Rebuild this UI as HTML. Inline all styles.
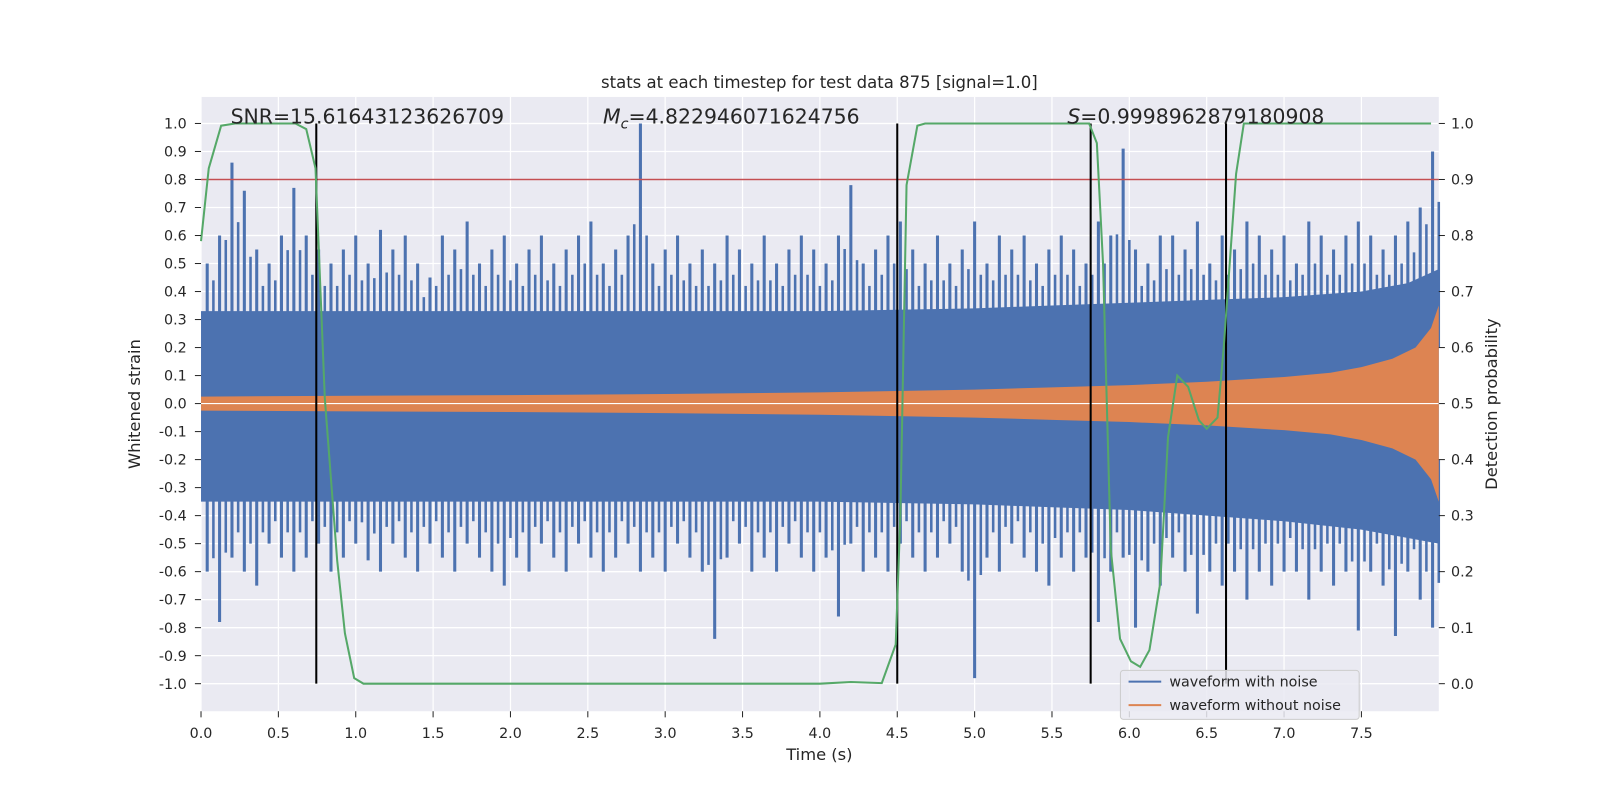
<!DOCTYPE html>
<html><head><meta charset="utf-8"><style>
html,body{margin:0;padding:0;background:#fff;overflow:hidden;width:1600px;height:800px;font-family:"Liberation Sans","DejaVu Sans",sans-serif;}
svg{display:block;}
svg text{font-family:"DejaVu Sans","Liberation Sans",sans-serif;fill:#262626;}
</style></head><body>
<svg id="chart" width="1600" height="800" viewBox="0 0 1568 784" xmlns="http://www.w3.org/2000/svg">
<rect x="197" y="95" width="1213" height="602" fill="#eaeaf2"/>
<g id="grid"></g>
<g id="marks"></g>
<g id="axes"></g>
<text x="803" y="86" text-anchor="middle" font-size="16.2">stats at each timestep for test data 875 [signal=1.0]</text>
<text x="226" y="121" font-size="20">SNR=15.61643123626709</text>
<text x="591" y="121" font-size="20"><tspan font-style="italic">M</tspan><tspan font-size="14" dy="5" font-style="italic">c</tspan><tspan dy="-5">=4.822946071624756</tspan></text>
<text x="1046" y="121" font-size="20"><tspan font-style="italic">S</tspan>=0.9998962879180908</text>
<text x="803" y="745" text-anchor="middle" font-size="16">Time (s)</text>
<text transform="translate(137,396) rotate(-90)" text-anchor="middle" font-size="16">Whitened strain</text>
<text transform="translate(1467,396) rotate(-90)" text-anchor="middle" font-size="16">Detection probability</text>
<g>
<rect x="1098" y="657" width="234" height="48" rx="3" fill="#eaeaf2" fill-opacity="0.85" stroke="#cccccc"/>
<line x1="1106" y1="668" x2="1138" y2="668" stroke="#4c72b0" stroke-width="2"/>
<text x="1146" y="673" font-size="14">waveform with noise</text>
<line x1="1106" y1="691" x2="1138" y2="691" stroke="#dd8452" stroke-width="2"/>
<text x="1146" y="696" font-size="14">waveform without noise</text>
</g>
</svg>
<script>
const upperSpikes=[0.5,0.6,0.86,0.76,0.55,0.5,0.6,0.77,0.6,0.55,0.5,0.55,0.6,0.5,0.62,0.55,0.6,0.5,0.45,0.6,0.55,0.65,0.5,0.55,0.6,0.5,0.55,0.6,0.5,0.55,0.6,0.65,0.5,0.55,0.6,1.0,0.5,0.55,0.6,0.5,0.55,0.5,0.6,0.55,0.5,0.6,0.5,0.55,0.6,0.55,0.5,0.6,0.78,0.5,0.55,0.6,0.65,0.55,0.5,0.6,0.5,0.55,0.65,0.5,0.6,0.55,0.6,0.5,0.55,0.6,0.55,0.5,0.65,0.6,0.91,0.55,0.5,0.6,0.6,0.55,0.65,0.5,0.6,0.55,0.65,0.6,0.55,0.6,0.5,0.65,0.6,0.55,0.6,0.65,0.6,0.55,0.6,0.65,0.7,0.9];
const lowerSpikes=[-0.6,-0.78,-0.55,-0.6,-0.65,-0.5,-0.55,-0.6,-0.55,-0.5,-0.6,-0.55,-0.5,-0.56,-0.6,-0.5,-0.55,-0.6,-0.5,-0.55,-0.6,-0.5,-0.55,-0.6,-0.65,-0.55,-0.6,-0.5,-0.55,-0.6,-0.5,-0.55,-0.6,-0.55,-0.5,-0.6,-0.55,-0.6,-0.5,-0.55,-0.6,-0.84,-0.55,-0.5,-0.6,-0.55,-0.6,-0.5,-0.55,-0.6,-0.55,-0.76,-0.5,-0.6,-0.55,-0.6,-0.5,-0.55,-0.6,-0.55,-0.5,-0.6,-0.98,-0.55,-0.6,-0.5,-0.55,-0.6,-0.65,-0.55,-0.6,-0.55,-0.78,-0.6,-0.55,-0.8,-0.6,-0.65,-0.55,-0.6,-0.75,-0.6,-0.65,-0.6,-0.7,-0.6,-0.65,-0.6,-0.6,-0.7,-0.6,-0.65,-0.6,-0.81,-0.6,-0.65,-0.83,-0.6,-0.7,-0.8];
const spikeStep=0.08;
const bandTimes=[0,1,2,3,4,5,5.5,6,6.5,7,7.5,7.8,8];
const bandUpper=[0.33,0.33,0.33,0.33,0.33,0.34,0.35,0.36,0.37,0.38,0.4,0.43,0.48];
const bandLower=[-0.35,-0.35,-0.35,-0.35,-0.35,-0.36,-0.37,-0.38,-0.4,-0.42,-0.45,-0.48,-0.5];
const cleanTimes=[0,1,2,3,4,4.5,5,5.5,6,6.5,7,7.3,7.5,7.7,7.85,7.95,8];
const cleanAmp=[0.025,0.028,0.03,0.034,0.04,0.045,0.05,0.058,0.066,0.078,0.095,0.11,0.13,0.16,0.2,0.27,0.35];
const probTimes=[0,0.05,0.13,0.22,0.61,0.68,0.74,0.8,0.88,0.93,0.99,1.05,4.0,4.2,4.4,4.49,4.52,4.56,4.63,4.68,5.74,5.79,5.83,5.88,5.94,6.01,6.07,6.13,6.2,6.25,6.31,6.38,6.45,6.5,6.57,6.61,6.69,6.74,7.95];
const probVals=[0.79,0.92,0.996,1.0,1.0,0.99,0.92,0.51,0.22,0.09,0.01,0.0,0.0,0.003,0.001,0.07,0.3,0.89,0.996,1.0,1.0,0.965,0.75,0.24,0.08,0.04,0.03,0.06,0.18,0.44,0.55,0.53,0.47,0.455,0.475,0.6,0.91,1.0,1.0];
const detectionTimes=[0.745,4.5,5.75,6.625];
const threshold=0.8;
const xTicks=[0,0.5,1,1.5,2,2.5,3,3.5,4,4.5,5,5.5,6,6.5,7,7.5];
const yTicks=[-1,-0.9,-0.8,-0.7,-0.6,-0.5,-0.4,-0.3,-0.2,-0.1,0,0.1,0.2,0.3,0.4,0.5,0.6,0.7,0.8,0.9,1.0];
const rTicks=[0,0.1,0.2,0.3,0.4,0.5,0.6,0.7,0.8,0.9,1.0];

const NS='http://www.w3.org/2000/svg';
const X0=197,X1=1410,TMAX=8.0;
const xs=t=>X0+(t/TMAX)*(X1-X0);
const yL=v=>395.5-v*274.5;
const yR=p=>670-p*549;
function mk(tag,attrs,parent){const e=document.createElementNS(NS,tag);for(const k in attrs)e.setAttribute(k,attrs[k]);parent.appendChild(e);return e;}
const grid=document.getElementById('grid'),marks=document.getElementById('marks'),axes=document.getElementById('axes');
xTicks.forEach(t=>{const l=mk('line',{x1:xs(t),x2:xs(t),y1:95,y2:697,stroke:'#fff','stroke-width':1.2},grid);
});
yTicks.forEach(v=>{const l=mk('line',{x1:X0,x2:X1,y1:yL(v),y2:yL(v),stroke:'#fff','stroke-width':1.2},grid);
});
rTicks.forEach(v=>{const l=mk('line',{x1:X0,x2:X1,y1:yR(v),y2:yR(v),stroke:'#fff','stroke-width':1.2},grid);
});
let pts=[];
bandTimes.forEach((t,i)=>pts.push(xs(t)+','+yL(bandUpper[i])));
for(let i=bandTimes.length-1;i>=0;i--)pts.push(xs(bandTimes[i])+','+yL(bandLower[i]));
const band=mk('polygon',{points:pts.join(' '),fill:'#4c72b0'},marks);


upperSpikes.forEach((v,i)=>{const t=0.04+i*spikeStep;const l=mk('line',{x1:xs(t),x2:xs(t),y1:yL(0.2),y2:yL(v),stroke:'#4c72b0','stroke-width':3},marks);
});
lowerSpikes.forEach((v,i)=>{const t=0.04+i*spikeStep;const l=mk('line',{x1:xs(t),x2:xs(t),y1:yL(-0.2),y2:yL(v),stroke:'#4c72b0','stroke-width':3},marks);
});
upperSpikes.forEach((v,i)=>{const t=0.08+i*spikeStep;const w=(upperSpikes[i]+(upperSpikes[i+1]||v))/2*0.8;const l=mk('line',{x1:xs(t),x2:xs(t),y1:yL(0.2),y2:yL(w),stroke:'#4c72b0','stroke-width':2.5},marks);
});
lowerSpikes.forEach((v,i)=>{const t=0.08+i*spikeStep;const w=(lowerSpikes[i]+(lowerSpikes[i+1]||v))/2*0.8;const l=mk('line',{x1:xs(t),x2:xs(t),y1:yL(-0.2),y2:yL(w),stroke:'#4c72b0','stroke-width':2.5},marks);
});
pts=[];
cleanTimes.forEach((t,i)=>pts.push(xs(t)+','+yL(cleanAmp[i])));
for(let i=cleanTimes.length-1;i>=0;i--)pts.push(xs(cleanTimes[i])+','+yL(-cleanAmp[i]));
const clean=mk('polygon',{points:pts.join(' '),fill:'#dd8452'},marks);


const zero=mk('line',{x1:X0,x2:X1,y1:yL(0),y2:yL(0),stroke:'#fff','stroke-width':1.2},marks);


const th=mk('line',{x1:X0,x2:X1,y1:yL(threshold),y2:yL(threshold),stroke:'#c44e52','stroke-width':1.5},marks);


detectionTimes.forEach(t=>{const l=mk('line',{x1:xs(t),x2:xs(t),y1:yR(1),y2:yR(0),stroke:'#000','stroke-width':2},marks);
});
const pl=mk('polyline',{points:probTimes.map((t,i)=>xs(t)+','+yR(probVals[i])).join(' '),fill:'none',stroke:'#55a868','stroke-width':2},marks);


xTicks.forEach(t=>{mk('line',{x1:xs(t),x2:xs(t),y1:697,y2:703,stroke:'#262626'},axes);
const tx=mk('text',{x:xs(t),y:723,'text-anchor':'middle','font-size':14},axes);tx.textContent=t.toFixed(1);
});
yTicks.forEach(v=>{mk('line',{x1:191,x2:197,y1:yL(v),y2:yL(v),stroke:'#262626'},axes);
const tx=mk('text',{x:183,y:yL(v)+5,'text-anchor':'end','font-size':14},axes);tx.textContent=(Math.abs(v)<1e-9?0:v).toFixed(1);
});
rTicks.forEach(v=>{mk('line',{x1:1410,x2:1416,y1:yR(v),y2:yR(v),stroke:'#262626'},axes);
const tx=mk('text',{x:1422,y:yR(v)+5,'text-anchor':'start','font-size':14},axes);tx.textContent=v.toFixed(1);
});
</script>
</body></html>
